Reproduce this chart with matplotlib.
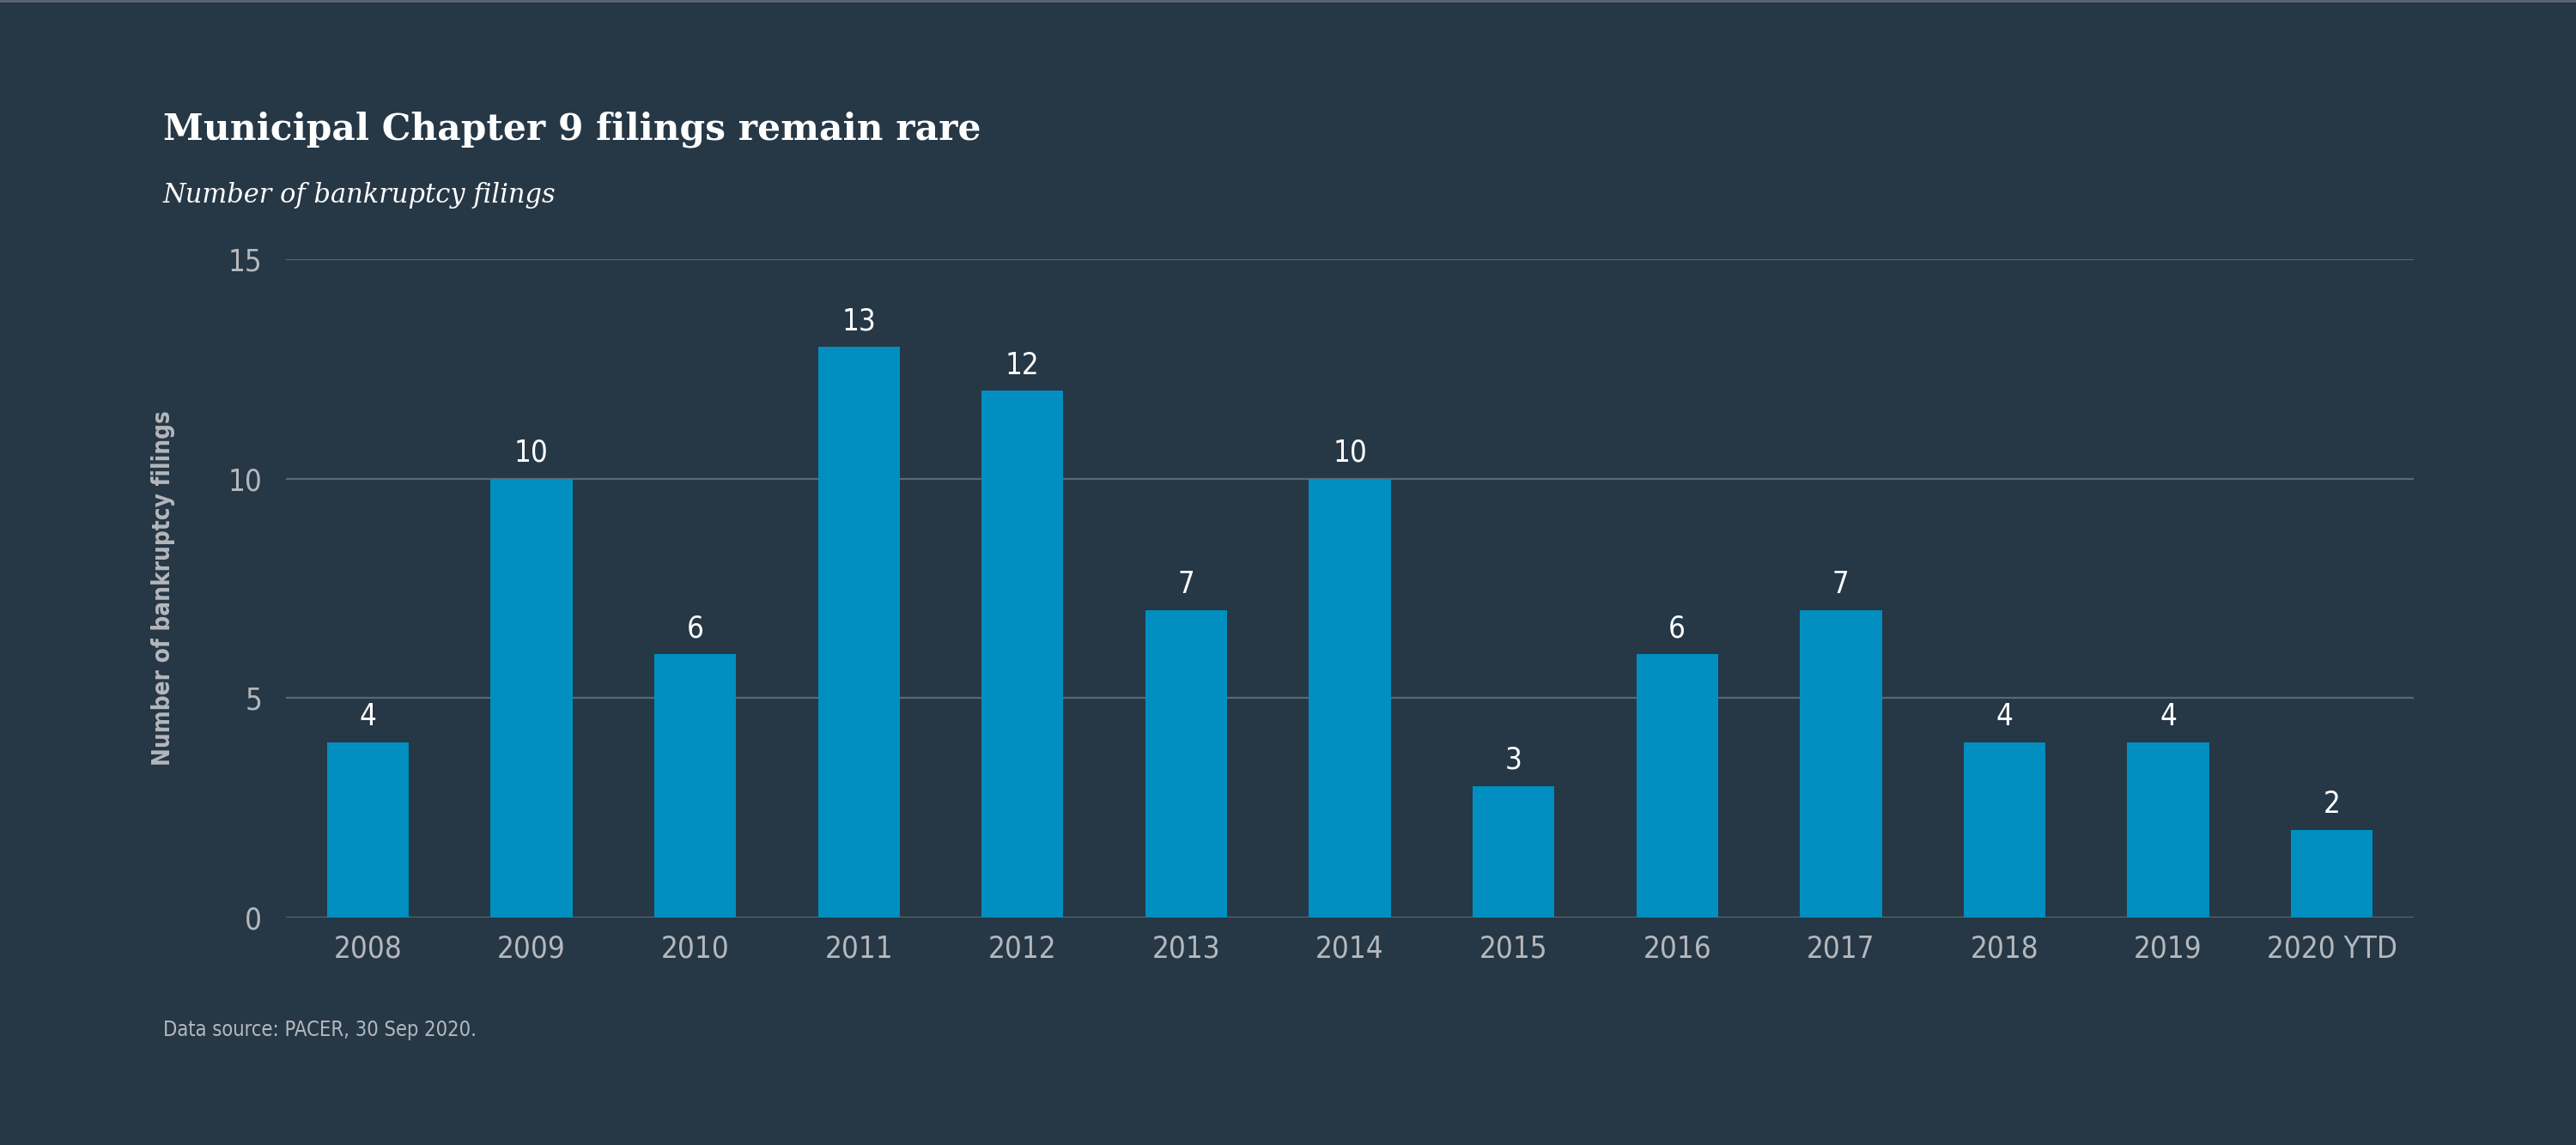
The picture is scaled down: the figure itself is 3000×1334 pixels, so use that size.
import matplotlib
matplotlib.use('Agg')
import matplotlib.pyplot as plt
from matplotlib.lines import Line2D

years = ['2008', '2009', '2010', '2011', '2012', '2013', '2014',
         '2015', '2016', '2017', '2018', '2019', '2020 YTD']
filings = [4, 10, 6, 13, 12, 7, 10, 3, 6, 7, 4, 4, 2]
yticks = [0, 5, 10, 15]

bg = '#263746'
bar_color = '#008fc0'
grid_color = '#5b6772'
gray = '#b4b8bc'
narrow = ['DejaVu Sans']
serif = ['DejaVu Serif']

fig = plt.figure(figsize=(30, 13.34), dpi=100, facecolor=bg)
ax = fig.add_axes([0.111, 0.1986, 0.826, 0.575], facecolor=bg)

x = range(len(years))
ax.bar(x, filings, width=0.5, color=bar_color, zorder=3)
for i, v in zip(x, filings):
    ax.text(i, v + 0.25, str(v), ha='center', va='bottom', color='white',
            fontsize=25, family=narrow, fontstretch='condensed', zorder=4)

ax.set_xlim(-0.5, len(years) - 0.5)
ax.set_ylim(0, 15)
ax.set_yticks(yticks)
ax.set_xticks(list(x))
ax.set_xticklabels(years)
ax.grid(axis='y', color=grid_color, linewidth=1.6, zorder=0)
for s in ax.spines.values():
    s.set_visible(False)
ax.tick_params(axis='both', length=0, colors=gray, labelsize=25)
ax.tick_params(axis='x', pad=14)
ax.tick_params(axis='y', pad=20)
for lab in ax.get_xticklabels() + ax.get_yticklabels():
    lab.set_family(narrow)
    lab.set_fontstretch('condensed')

ax.set_ylabel('Number of bankruptcy filings', color=gray, fontsize=20,
              family=narrow, fontstretch='condensed', fontweight='bold')
ax.yaxis.set_label_coords(-0.052, 0.5)

fig.text(0.0633, 0.878, 'Municipal Chapter 9 filings remain rare', color='white',
         fontsize=30.5, fontweight='bold', family=serif, va='baseline')
fig.text(0.0633, 0.823, 'Number of bankruptcy filings', color='white',
         fontsize=22, style='italic', family=serif, va='baseline')
fig.text(0.0633, 0.095, 'Data source: PACER, 30 Sep 2020.', color=gray,
         fontsize=17, family=narrow, fontstretch='condensed', va='baseline')

fig.add_artist(Line2D([0, 1], [0.999, 0.999], color='#5b6772', linewidth=2))

fig.savefig('out.png', dpi=100, facecolor=bg)
